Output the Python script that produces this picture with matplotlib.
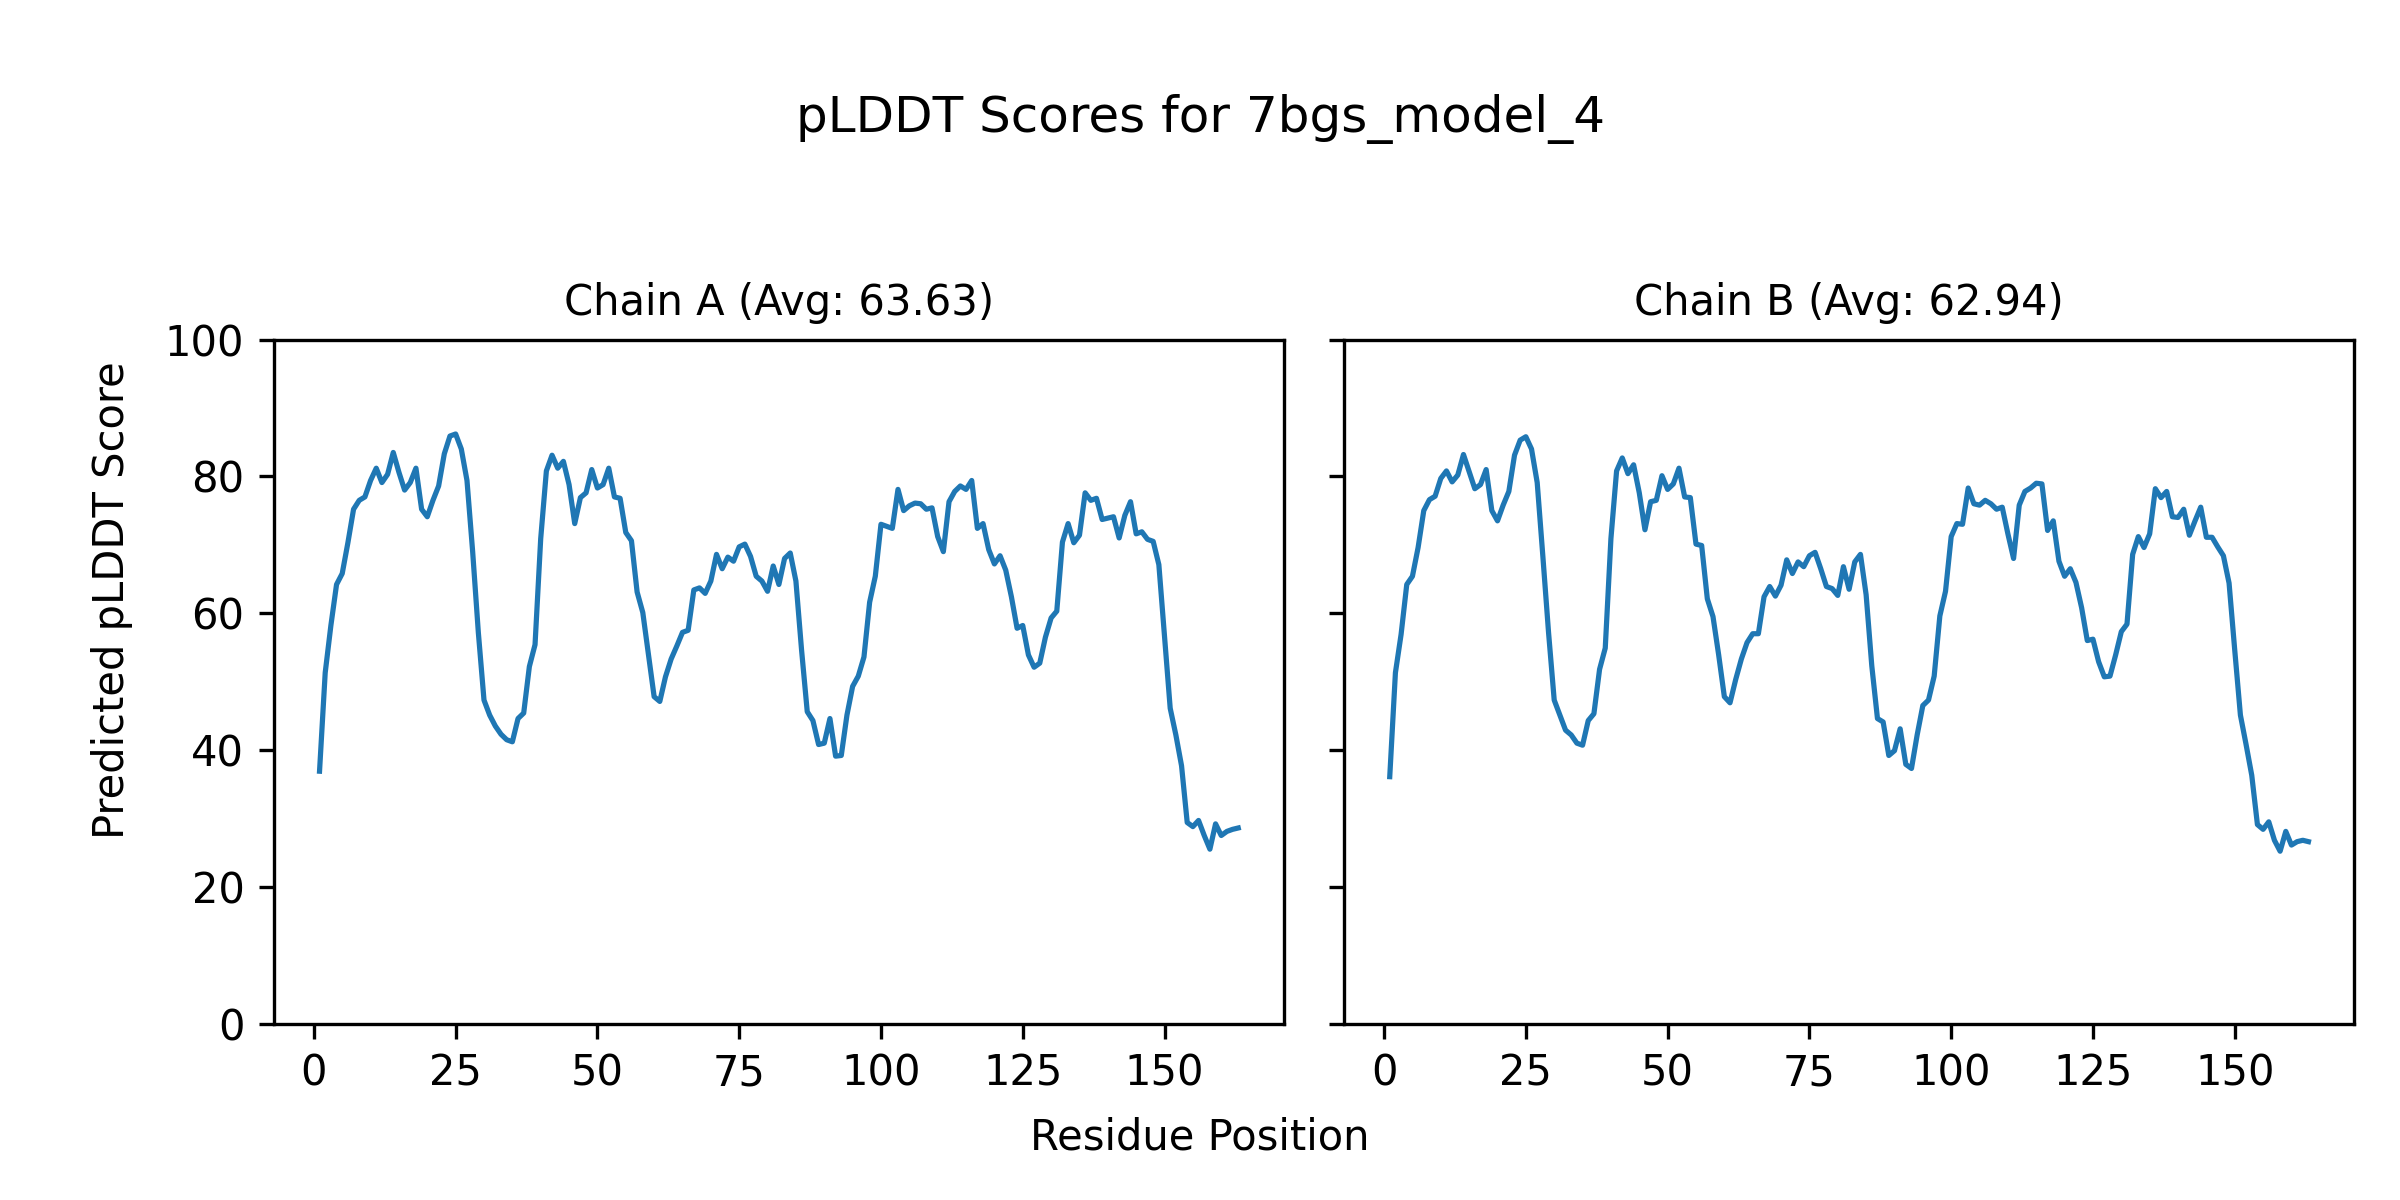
import numpy as np
import matplotlib
matplotlib.use('Agg')
import matplotlib.pyplot as plt

# pLDDT values read per residue (1..163)
chain_a_scores = [
    36.9, 51.3, 58.2, 64.2, 65.8, 70.3, 75.2, 76.5, 77.0, 79.4,
    81.2, 79.1, 80.3, 83.5, 80.6, 78.0, 79.1, 81.2, 75.2, 74.1,
    76.5, 78.6, 83.3, 85.9, 86.2, 84.0, 79.4, 69.0, 57.2, 47.3,
    45.1, 43.5, 42.3, 41.5, 41.2, 44.6, 45.4, 52.2, 55.4, 70.9,
    80.8, 83.1, 81.2, 82.2, 78.8, 73.1, 76.9, 77.6, 81.0, 78.3,
    78.8, 81.2, 77.0, 76.8, 71.8, 70.6, 63.1, 60.1, 53.9, 47.8,
    47.1, 50.7, 53.3, 55.2, 57.2, 57.5, 63.4, 63.7, 62.9, 64.7,
    68.6, 66.5, 68.2, 67.6, 69.7, 70.1, 68.3, 65.4, 64.7, 63.2,
    66.9, 64.2, 68.0, 68.8, 64.7, 54.6, 45.6, 44.3, 40.8, 41.0,
    44.6, 39.1, 39.2, 45.1, 49.3, 50.8, 53.6, 61.6, 65.4, 73.0,
    72.7, 72.4, 78.1, 75.0, 75.7, 76.1, 76.0, 75.2, 75.4, 71.2,
    69.0, 76.3, 77.8, 78.6, 78.1, 79.4, 72.4, 73.1, 69.3, 67.2,
    68.4, 66.3, 62.4, 57.8, 58.2, 53.9, 52.1, 52.7, 56.5, 59.3,
    60.3, 70.4, 73.1, 70.3, 71.4, 77.6, 76.5, 76.8, 73.7, 73.9,
    74.1, 71.0, 74.3, 76.3, 71.6, 71.9, 70.8, 70.5, 67.1, 56.5,
    46.1, 42.2, 37.7, 29.4, 28.8, 29.7, 27.5, 25.5, 29.2, 27.5,
    28.1, 28.4, 28.6,
]

chain_b_scores = [
    36.1, 51.3, 56.9, 64.2, 65.4, 69.6, 75.0, 76.6, 77.1, 79.7,
    80.8, 79.2, 80.2, 83.2, 80.7, 78.2, 78.8, 81.0, 75.0, 73.5,
    75.8, 77.8, 83.1, 85.3, 85.8, 84.0, 79.1, 68.3, 57.2, 47.3,
    45.1, 42.9, 42.2, 41.0, 40.7, 44.3, 45.3, 51.8, 54.9, 70.9,
    80.8, 82.7, 80.4, 81.7, 77.6, 72.2, 76.3, 76.5, 80.1, 78.1,
    78.9, 81.2, 77.0, 76.9, 70.1, 69.9, 62.1, 59.5, 53.9, 47.8,
    46.9, 50.3, 53.3, 55.7, 57.0, 57.0, 62.4, 63.9, 62.5, 64.1,
    67.8, 65.8, 67.5, 66.8, 68.4, 68.9, 66.5, 63.9, 63.6, 62.6,
    66.8, 63.5, 67.5, 68.6, 62.7, 52.3, 44.6, 44.1, 39.2, 39.9,
    43.1, 37.9, 37.3, 42.2, 46.5, 47.3, 50.8, 59.6, 63.2, 71.2,
    73.1, 73.0, 78.3, 76.0, 75.8, 76.5, 76.0, 75.2, 75.5, 71.6,
    68.0, 75.8, 77.8, 78.3, 79.0, 78.9, 72.1, 73.5, 67.6, 65.4,
    66.5, 64.5, 60.8, 56.0, 56.2, 52.9, 50.7, 50.8, 53.9, 57.3,
    58.4, 68.6, 71.2, 69.6, 71.6, 78.2, 76.9, 77.8, 74.1, 74.0,
    75.2, 71.4, 73.5, 75.5, 71.1, 71.1, 69.7, 68.4, 64.4, 54.6,
    45.1, 40.8, 36.3, 29.1, 28.4, 29.5, 26.8, 25.2, 28.1, 26.1,
    26.6, 26.8, 26.6,
]

chain_names = ['A', 'B']
chain_avgs = [63.63, 62.94]
model_name = '7bgs_model_4'

fig, axes = plt.subplots(1, 2, figsize=(8, 4), dpi=300, sharey=True)
fig.subplots_adjust(left=0.114, right=0.981, bottom=0.147, top=0.717, wspace=0.059)

for ax, name, avg, scores in zip(axes, chain_names, chain_avgs, [chain_a_scores, chain_b_scores]):
    residues = np.arange(1, len(scores) + 1)
    ax.plot(residues, scores, color='tab:blue', linewidth=1.25)
    ax.set_title(f'Chain {name} (Avg: {avg:.2f})', fontsize=10)
    ax.set_ylim(0, 100)
    ax.set_xticks([0, 25, 50, 75, 100, 125, 150])

# shared figure-level axis labels
fig.supylabel('Predicted pLDDT Score', fontsize=10, x=0.038)
fig.supxlabel('Residue Position', fontsize=10, y=0.035)
fig.suptitle(f'pLDDT Scores for {model_name}', fontsize=12, y=0.922)

plt.savefig('out.png', dpi=300)
